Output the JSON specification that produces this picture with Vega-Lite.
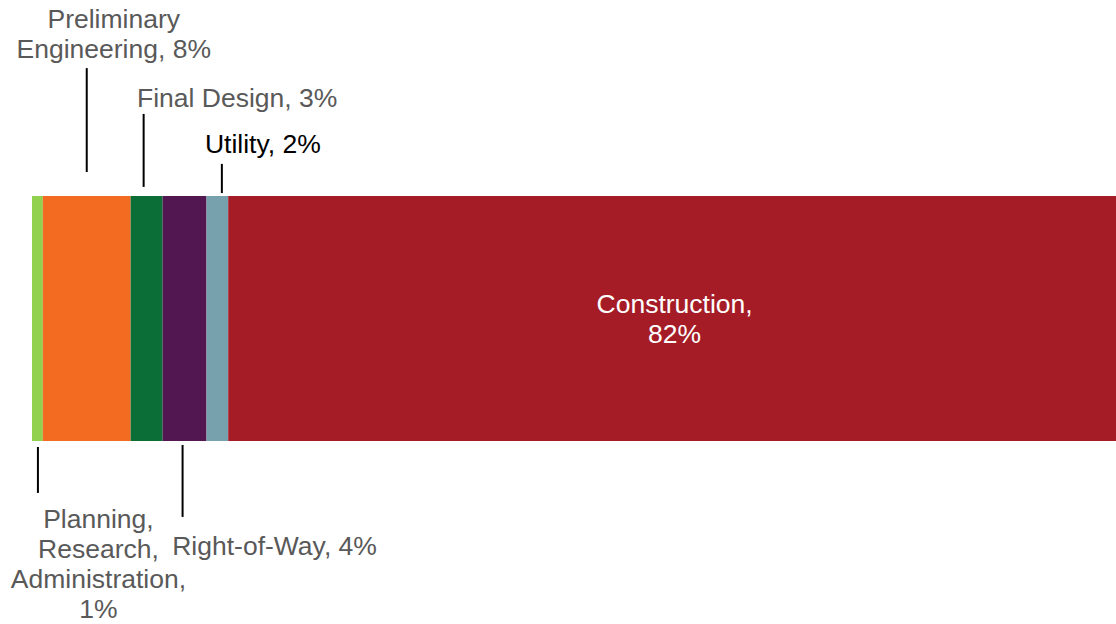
{
  "$schema": "https://vega.github.io/schema/vega-lite/v6.json",
  "width": 1116,
  "height": 624,
  "padding": 0,
  "autosize": {"type": "fit", "contains": "padding"},
  "background": "white",
  "config": {"view": {"stroke": null}, "text": {"font": "Liberation Sans", "fontSize": 26.5, "lineHeight": 30, "lineBreak": "\n", "align": "center", "baseline": "alphabetic", "color": "#595959"}},
  "data": {"values": [
    {"category": "Planning, Research, Administration", "pct": 1.0, "order": 1, "label": "Planning,\nResearch,\nAdministration,\n1%"},
    {"category": "Preliminary Engineering", "pct": 8.1, "order": 2, "label": "Preliminary\nEngineering, 8%"},
    {"category": "Final Design", "pct": 2.95, "order": 3, "label": "Final Design, 3%"},
    {"category": "Right-of-Way", "pct": 4.05, "order": 4, "label": "Right-of-Way, 4%"},
    {"category": "Utility", "pct": 2.0, "order": 5, "label": "Utility, 2%"},
    {"category": "Construction", "pct": 81.9, "order": 6, "label": "Construction,\n82%"}
  ]},
  "transform": [
    {"stack": "pct", "groupby": [], "sort": [{"field": "order"}], "as": ["x0", "x1"]},
    {"calculate": "(datum.x0 + datum.x1) / 2", "as": "mid"}
  ],
  "layer": [
    {
      "mark": {"type": "bar", "stroke": null},
      "encoding": {
        "x": {"field": "x0", "type": "quantitative", "scale": {"domain": [-2.952, 100], "nice": false, "zero": false}, "axis": null},
        "x2": {"field": "x1"},
        "y": {"datum": 0, "type": "quantitative", "scale": {"domain": [-0.747, 1.8], "nice": false, "zero": false}, "axis": null},
        "y2": {"datum": 1},
        "color": {"field": "category", "type": "nominal", "legend": null,
          "scale": {"domain": ["Planning, Research, Administration", "Preliminary Engineering", "Final Design", "Right-of-Way", "Utility", "Construction"],
                    "range": ["#92D050", "#F26B21", "#0B6E37", "#521750", "#78A1AE", "#A51C27"]}}
      }
    },
    {
      "transform": [{"filter": "datum.order === 1"}],
      "mark": {"type": "rule", "color": "black", "strokeWidth": 2, "xOffset": 0.5},
      "encoding": {
        "x": {"field": "mid", "type": "quantitative", "scale": {"domain": [-2.952, 100], "nice": false, "zero": false}, "axis": null},
        "y": {"datum": -0.0245, "type": "quantitative", "scale": {"domain": [-0.747, 1.8], "nice": false, "zero": false}, "axis": null},
        "y2": {"datum": -0.212}
      }
    },
    {
      "transform": [{"filter": "datum.order === 1"}],
      "mark": {"type": "text", "dx": 61},
      "encoding": {
        "x": {"field": "mid", "type": "quantitative", "scale": {"domain": [-2.952, 100], "nice": false, "zero": false}, "axis": null},
        "y": {"datum": -0.355, "type": "quantitative", "scale": {"domain": [-0.747, 1.8], "nice": false, "zero": false}, "axis": null},
        "text": {"field": "label"}
      }
    },
    {
      "transform": [{"filter": "datum.order === 2"}],
      "mark": {"type": "rule", "color": "black", "strokeWidth": 2},
      "encoding": {
        "x": {"field": "mid", "type": "quantitative", "scale": {"domain": [-2.952, 100], "nice": false, "zero": false}, "axis": null},
        "y": {"datum": 1.522, "type": "quantitative", "scale": {"domain": [-0.747, 1.8], "nice": false, "zero": false}, "axis": null},
        "y2": {"datum": 1.098}
      }
    },
    {
      "transform": [{"filter": "datum.order === 2"}],
      "mark": {"type": "text", "dx": 27},
      "encoding": {
        "x": {"field": "mid", "type": "quantitative", "scale": {"domain": [-2.952, 100], "nice": false, "zero": false}, "axis": null},
        "y": {"datum": 1.686, "type": "quantitative", "scale": {"domain": [-0.747, 1.8], "nice": false, "zero": false}, "axis": null},
        "text": {"field": "label"}
      }
    },
    {
      "transform": [{"filter": "datum.order === 3"}],
      "mark": {"type": "rule", "color": "black", "strokeWidth": 2, "xOffset": -3},
      "encoding": {
        "x": {"field": "mid", "type": "quantitative", "scale": {"domain": [-2.952, 100], "nice": false, "zero": false}, "axis": null},
        "y": {"datum": 1.335, "type": "quantitative", "scale": {"domain": [-0.747, 1.8], "nice": false, "zero": false}, "axis": null},
        "y2": {"datum": 1.037}
      }
    },
    {
      "transform": [{"filter": "datum.order === 3"}],
      "mark": {"type": "text", "dx": 90.5},
      "encoding": {
        "x": {"field": "mid", "type": "quantitative", "scale": {"domain": [-2.952, 100], "nice": false, "zero": false}, "axis": null},
        "y": {"datum": 1.363, "type": "quantitative", "scale": {"domain": [-0.747, 1.8], "nice": false, "zero": false}, "axis": null},
        "text": {"field": "label"}
      }
    },
    {
      "transform": [{"filter": "datum.order === 4"}],
      "mark": {"type": "rule", "color": "black", "strokeWidth": 2, "xOffset": -2},
      "encoding": {
        "x": {"field": "mid", "type": "quantitative", "scale": {"domain": [-2.952, 100], "nice": false, "zero": false}, "axis": null},
        "y": {"datum": -0.0163, "type": "quantitative", "scale": {"domain": [-0.747, 1.8], "nice": false, "zero": false}, "axis": null},
        "y2": {"datum": -0.31}
      }
    },
    {
      "transform": [{"filter": "datum.order === 4"}],
      "mark": {"type": "text", "dx": 90},
      "encoding": {
        "x": {"field": "mid", "type": "quantitative", "scale": {"domain": [-2.952, 100], "nice": false, "zero": false}, "axis": null},
        "y": {"datum": -0.465, "type": "quantitative", "scale": {"domain": [-0.747, 1.8], "nice": false, "zero": false}, "axis": null},
        "text": {"field": "label"}
      }
    },
    {
      "transform": [{"filter": "datum.order === 5"}],
      "mark": {"type": "rule", "color": "black", "strokeWidth": 2, "xOffset": 4.5},
      "encoding": {
        "x": {"field": "mid", "type": "quantitative", "scale": {"domain": [-2.952, 100], "nice": false, "zero": false}, "axis": null},
        "y": {"datum": 1.131, "type": "quantitative", "scale": {"domain": [-0.747, 1.8], "nice": false, "zero": false}, "axis": null},
        "y2": {"datum": 1.012}
      }
    },
    {
      "transform": [{"filter": "datum.order === 5"}],
      "mark": {"type": "text", "dx": 45.5, "color": "#000000"},
      "encoding": {
        "x": {"field": "mid", "type": "quantitative", "scale": {"domain": [-2.952, 100], "nice": false, "zero": false}, "axis": null},
        "y": {"datum": 1.176, "type": "quantitative", "scale": {"domain": [-0.747, 1.8], "nice": false, "zero": false}, "axis": null},
        "text": {"field": "label"}
      }
    },
    {
      "transform": [{"filter": "datum.order === 6"}],
      "mark": {"type": "text", "dx": 2.5, "color": "#FFFFFF"},
      "encoding": {
        "x": {"field": "mid", "type": "quantitative", "scale": {"domain": [-2.952, 100], "nice": false, "zero": false}, "axis": null},
        "y": {"datum": 0.522, "type": "quantitative", "scale": {"domain": [-0.747, 1.8], "nice": false, "zero": false}, "axis": null},
        "text": {"field": "label"}
      }
    }
  ]
}
